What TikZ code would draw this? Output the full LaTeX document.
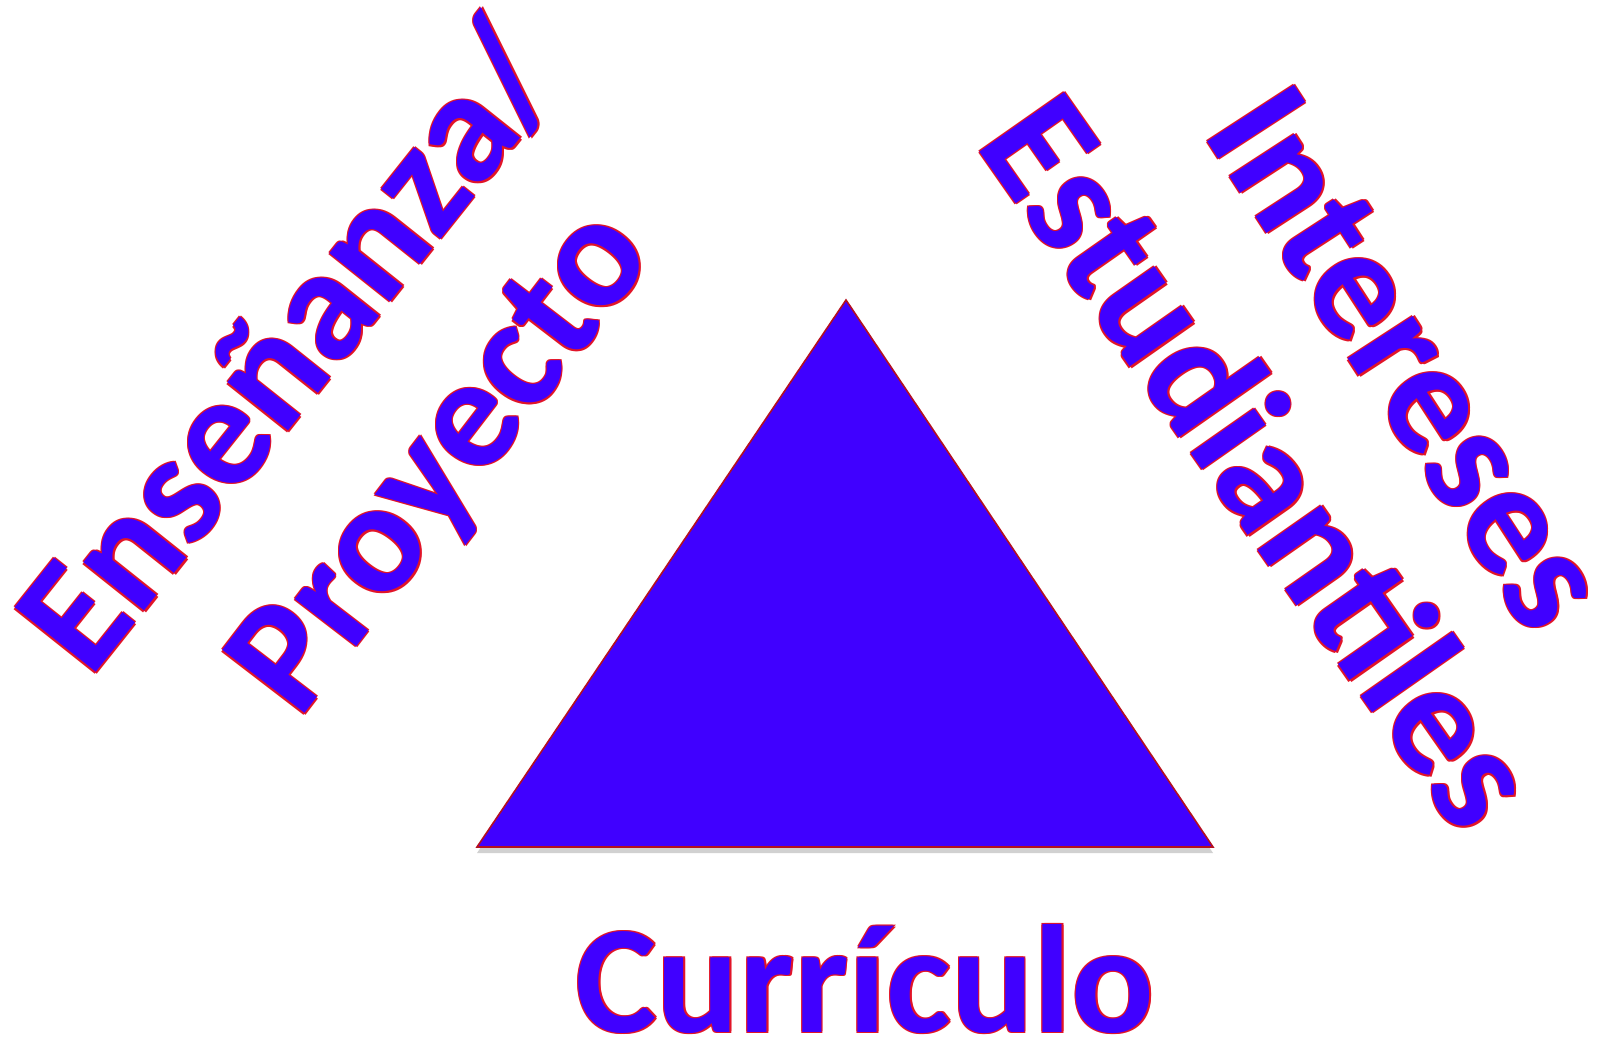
\documentclass[tikz,border=0pt]{standalone}
\usepackage{fontspec}
\setmainfont{Carlito}
\definecolor{tblue}{RGB}{64,0,255}
\definecolor{tred}{RGB}{225,20,40}
\tikzset{
  txtblue/.style={text=tblue, inner sep=0pt, anchor=base west, font=\bfseries\fontsize{80}{90}\selectfont},
  txtred/.style={text=tred, inner sep=0pt, anchor=base west, font=\bfseries\fontsize{80}{90}\selectfont},
  smaller/.style={font=\bfseries\fontsize{77}{90}\selectfont},
  tri/.style={fill=tblue, draw=tred!80!black, line width=0.8pt, line join=miter},
  trishadow/.style={fill=black!18, draw=none}
}
\newcommand\outtxt[6][]{% [extra], name, coordinate name, angle, anchor, text
  \foreach \dx/\dy in {0.8/-0.8,-0.5/0.5,0.8/0.5,-0.5/-0.8}{%
    \node[txtred, rotate=#4, anchor=#5, #1] at ([xshift=\dx pt,yshift=\dy pt]#3) {#6};}
  \node[txtblue, rotate=#4, anchor=#5, #1] (#2) at (#3) {#6};}
\begin{document}
\begin{tikzpicture}[x=0.5pt,y=-0.5pt]
\useasboundingbox (0,0) rectangle (1598,1043);
% triangle
\coordinate (apex) at (846,300);
\coordinate (bl) at (477,847);
\coordinate (br) at (1213,847);
\fill[trishadow] ([yshift=-3pt]apex) -- ([yshift=-3pt]bl) -- ([yshift=-3pt]br) -- cycle;
\path[tri] (apex) -- (bl) -- (br) -- cycle;
% text positions
\coordinate (l1) at (90,680);
\coordinate (l2) at (299,721);
\coordinate (r1) at (1201,132);
\coordinate (r2) at (974,144);
\coordinate (cb) at (865,1032);
\outtxt{ens}{l1}{51.5}{base west}{Enseñanza/}
\outtxt{proy}{l2}{52.5}{base west}{Proyecto}
\outtxt{inte}{r1}{-57}{base west}{Intereses}
\outtxt{estu}{r2}{-55}{base west}{Estudiantiles}
\outtxt[smaller]{curr}{cb}{0}{base}{Currículo}
\end{tikzpicture}
\end{document}
